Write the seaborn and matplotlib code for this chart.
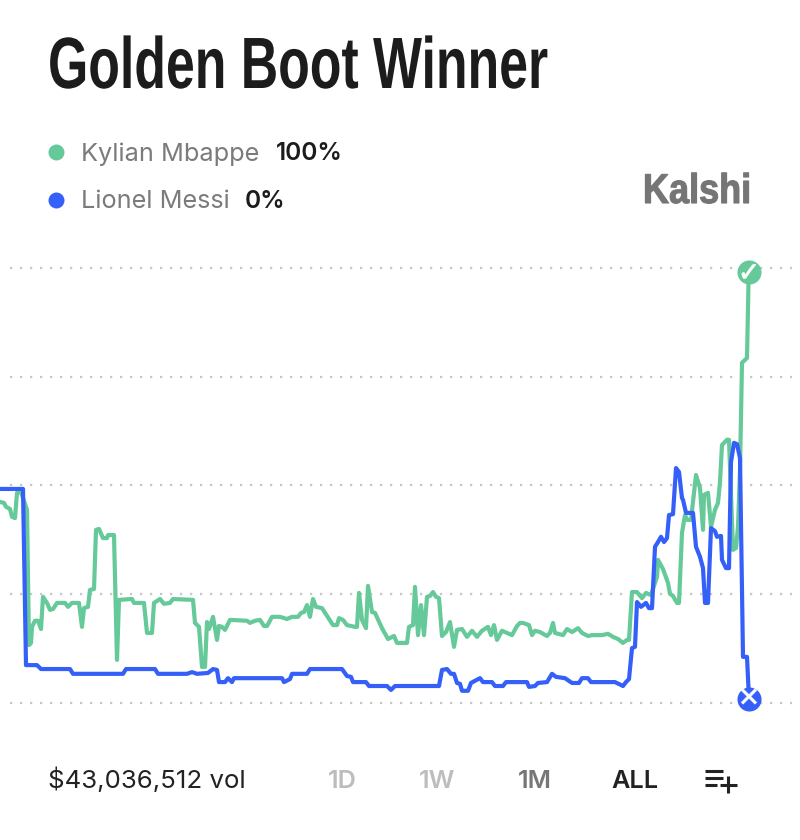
import pandas as pd
import seaborn as sns
import matplotlib.pyplot as plt
import matplotlib.patheffects as pe
from matplotlib.lines import Line2D
from matplotlib.transforms import Affine2D

# Data (percent chance over time)

mbappe_t = [
    0, 4, 6, 10, 12, 15, 17, 21, 27, 29, 31, 32, 35, 38, 41, 43, 47, 50, 53, 57, 65, 68, 72, 79, 82, 84, 88, 90, 94,
    96, 99, 103, 107, 108, 114, 117, 119, 132, 134, 144, 147, 152, 154, 160, 164, 170, 173, 193, 195, 199, 202, 205,
    207, 209, 213, 217, 219, 222, 225, 230, 247, 250, 255, 260,
    264, 267, 272, 280, 287, 292, 298, 301, 304, 307, 310, 313, 316, 322, 333, 337, 339, 343, 347, 355, 357, 359,
    362, 366, 368, 372, 375, 382, 388, 394, 397, 407, 409, 413, 415, 418, 421, 424, 427, 430, 433, 436, 439, 442,
    446, 450, 454, 457, 462, 467, 472, 477, 482, 488, 491, 494, 497, 502, 512, 517, 520,
    523, 529, 532, 535, 540, 547, 550, 553, 555, 563, 567, 572, 578, 582, 588, 592, 602, 608, 613, 618, 623, 627,
    629, 632, 637, 642, 646, 651, 657, 658, 663, 668, 670, 673, 677, 679, 682, 685, 687, 691, 693, 696, 700, 703,
    704, 708, 711, 715, 718, 720, 722, 727, 729, 733, 736, 738, 740, 742, 747, 748.5, 749,
]
mbappe_pct = [
    46.2, 46.0, 45.1, 44.6, 42.8, 42.5, 48.3, 48.5, 44.4, 13.3, 13.8, 17.5, 18.9, 18.9, 17.0, 24.4, 23.0, 21.4, 21.6,
    23.0, 23.0, 22.1, 23.0, 23.0, 17.5, 21.8, 22.1, 26.0, 26.2, 39.8, 40.0, 37.9, 37.9, 38.6, 38.6, 9.9, 23.7, 23.9,
    23.0, 23.0, 16.1, 16.1, 23.0, 23.9, 22.8, 23.0, 23.9, 23.7, 18.4, 17.5, 8.3, 8.3, 18.6, 17.0, 19.8, 14.5, 17.7,
    17.5, 16.8, 19.1, 18.9, 18.4, 18.9, 19.1,
    17.7, 17.7, 19.8, 19.8, 19.3, 19.8, 19.8, 20.7, 20.9, 22.5, 19.8, 23.9, 22.1, 21.8, 17.9, 17.9, 19.5, 19.1, 17.9,
    17.5, 17.5, 25.3, 19.1, 17.2, 26.9, 20.9, 20.7, 17.2, 14.7, 15.4, 13.8, 13.8, 17.5, 17.9, 26.7, 15.6, 22.5, 15.6,
    24.4, 24.6, 25.5, 24.4, 24.1, 15.4, 16.3, 18.6, 12.9, 16.8, 17.0, 15.2, 16.6, 15.2, 16.6, 17.5, 15.6, 17.9, 14.5,
    16.6, 15.6, 17.7, 18.4,
    18.4, 17.9, 15.6, 16.6, 16.3, 15.4, 16.1, 18.4, 16.1, 15.6, 17.0, 16.3, 17.2, 16.1, 15.4, 15.6, 15.6, 15.9, 15.2,
    14.7, 13.8, 14.5, 14.5, 25.5, 25.5, 24.1, 25.3, 24.8, 29.0, 32.9, 30.8, 27.6, 25.1, 24.6, 23.0, 23.0, 39.1, 43.2,
    42.1, 42.1, 46.2, 52.4, 49.4, 39.8, 47.8, 48.3, 40.5, 44.4, 46.0, 50.8, 59.3, 60.5, 60.5, 35.2, 35.6, 40.5, 53.6,
    78.2, 79.3, 96.6, 99.1,
]

messi_t = [
    0, 23, 26, 37, 41, 70, 73, 123, 126, 155, 158, 187, 192, 197, 208, 213, 217, 219, 225, 228, 232, 234, 260,
    282, 284, 290, 292, 307, 310, 342, 347, 351, 353, 366, 369, 387, 391, 395, 439, 442, 447, 451, 454, 457, 460,
    462, 468, 471, 475, 480, 483, 492, 495, 503, 506, 520,
    527, 529, 535, 538, 547, 552, 556, 565, 572, 579, 582, 588, 591, 615, 623, 626, 629, 632, 635, 637, 641, 646,
    649, 652, 655, 658, 661, 664, 667, 669, 673, 676, 679, 682, 683, 686, 693, 696, 700, 703, 705, 708, 711, 715,
    717, 721, 722, 726, 729, 731, 734, 737, 740, 743, 747, 749,
]
messi_pct = [
    49.2, 49.2, 8.7, 8.7, 7.8, 7.8, 6.7, 6.7, 7.8, 7.8, 6.7, 6.7, 7.1, 6.7, 6.9, 7.8, 7.6, 4.8, 4.8, 5.7, 4.8, 5.7, 5.7,
    5.7, 4.8, 5.5, 6.7, 6.7, 7.8, 7.8, 6.2, 6.0, 4.8, 4.8, 3.9, 3.9, 3.0, 3.9, 3.9, 7.6, 7.8, 6.7, 6.7, 4.6, 4.4,
    2.8, 2.8, 4.6, 5.1, 5.7, 4.8, 4.8, 3.9, 3.9, 4.8, 4.8,
    4.8, 3.7, 3.9, 4.6, 4.8, 6.7, 6.0, 5.7, 4.6, 4.6, 5.7, 5.7, 4.8, 4.8, 3.9, 4.8, 5.5, 12.6, 12.9, 23.2, 22.1, 23.0,
    21.8, 21.8, 35.9, 37.0, 38.2, 37.0, 37.9, 43.2, 43.4, 54.0, 53.1, 47.1, 46.7, 43.7, 43.7, 35.9, 33.6, 31.0, 23.0,
    23.0, 40.2, 39.5, 38.2, 38.4, 32.9, 31.0, 31.0, 55.4, 59.8, 59.5, 56.3, 10.6, 10.6, 0.9,
]

grid_pct = [0, 25, 50, 75, 100]
time_labels = ["1D", "1W", "1M", "ALL"]

GREEN = "#66C999"
BLUE = "#345FF8"
SANS = ["Inter", "DejaVu Sans"]
HEAVY = ["Liberation Sans"]


# no condensed font here, so squeeze the glyphs of a normal one
class Squeeze(pe.AbstractPathEffect):
    def __init__(self, sx=1.0, stroke=0.0):
        super().__init__()
        self.sx = sx
        self.stroke = stroke

    def draw_path(self, renderer, gc, tpath, affine, rgbFace=None):
        gc0 = renderer.new_gc()
        gc0.copy_properties(gc)
        gc0.set_foreground(rgbFace)
        gc0.set_linewidth(self.stroke)
        renderer.draw_path(gc0, tpath, Affine2D().scale(self.sx, 1) + affine, rgbFace)
        gc0.restore()


sns.set_theme(style="white")

mbappe_df = pd.DataFrame({"t": mbappe_t, "pct": mbappe_pct})
messi_df = pd.DataFrame({"t": messi_t, "pct": messi_pct})

fig = plt.figure(figsize=(8, 8.4), dpi=100, facecolor="white")
ax = fig.add_axes([0, 0, 1, 1])

for p in grid_pct:
    ax.plot([10, 792], [p, p], color="#c6c6c6", lw=1.6, ls=(0, (1, 3.5)), zorder=1)

line_kw = dict(lw=3.0, estimator=None, sort=False, ax=ax, solid_joinstyle="round", solid_capstyle="round")
sns.lineplot(data=mbappe_df, x="t", y="pct", color=GREEN, zorder=2, **line_kw)
sns.lineplot(data=messi_df, x="t", y="pct", color=BLUE, zorder=3, **line_kw)

# end markers sit on the last point of each series
sns.scatterplot(x=mbappe_t[-1:], y=mbappe_pct[-1:], color=GREEN, s=300, linewidth=0, ax=ax, zorder=4)
sns.scatterplot(x=messi_t[-1:], y=messi_pct[-1:], color=BLUE, s=300, linewidth=0, ax=ax, zorder=4)
ax.annotate("\u2713", (mbappe_t[-1], mbappe_pct[-1]), xytext=(0, -1.5), textcoords="offset points",
            color="white", fontsize=19, family="DejaVu Sans", ha="center", va="center", zorder=5,
            path_effects=[Squeeze(1.0, 0.6)])
ax.annotate("\u2715", (messi_t[-1], messi_pct[-1]), xytext=(0, 0), textcoords="offset points",
            color="white", fontsize=19, family="DejaVu Sans", ha="center", va="center", zorder=5,
            path_effects=[Squeeze(1.0, 0.4)])

ax.set_xlim(0, 800)
ax.set_ylim(-31.5, 161.6)
ax.set_axis_off()


# helper: page pixels to figure coords
def px(x, y):
    return x / 800, 1 - y / 840


def label(x, y, s, **kw):
    kw.setdefault("family", SANS)
    kw.setdefault("va", "baseline")
    return fig.text(*px(x, y), s, **kw)


label(48, 88, "Golden Boot Winner", fontsize=52.3, fontweight="bold", color="#1c1c1c", family=HEAVY,
      path_effects=[Squeeze(0.713)])

for y, c in [(152, GREEN), (200, BLUE)]:
    x0, y0 = px(56, y)
    fig.add_artist(Line2D([x0], [y0], marker="o", ms=11.5, color=c, mew=0))

label(81, 160.5, "Kylian Mbappe", fontsize=18.2, color="#7b7b7b")
label(276, 160.5, "100%", fontsize=17.6, fontweight="semibold", color="#1c1c1c")
label(81, 208.5, "Lionel Messi", fontsize=18.2, color="#7b7b7b")
label(245, 208.5, "0%", fontsize=17.6, fontweight="semibold", color="#1c1c1c")

label(643, 203, "Kalshi", fontsize=30, fontweight="bold", color="#757575", family=HEAVY,
      path_effects=[Squeeze(0.865, 0.8)])

label(48, 788, "$43,036,512 vol", fontsize=18.6, color="#222222")
for name, x, c in zip(time_labels, [342, 437, 535, 635], ["#bdbdbd", "#bdbdbd", "#777777", "#222222"]):
    label(x, 788, name, fontsize=18.2, fontweight="semibold", color=c, ha="center")

# queue icon, bottom right
for x1, x2, y1, y2 in [(705, 723, 771, 771), (705, 723, 778, 778), (705, 717, 785, 785),
                       (720, 737, 785, 785), (728, 728, 776, 793)]:
    x_a, y_a = px(x1, y1)
    x_b, y_b = px(x2, y2)
    fig.add_artist(Line2D([x_a, x_b], [y_a, y_b], color="#222222", lw=2.2, solid_capstyle="butt"))

fig.savefig("out.png", dpi=100, facecolor="white")
